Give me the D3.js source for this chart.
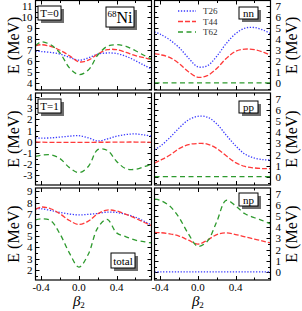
<!DOCTYPE html>
<html>
<head>
<meta charset="utf-8">
<script src="https://cdn.jsdelivr.net/npm/d3@7"></script>
<style>
  body { margin: 0; background: #fff; }
  svg text { font-family: "Liberation Serif", "DejaVu Serif", serif; }
</style>
</head>
<body>
<svg id="chart" width="302" height="311"></svg>
<script>
// beta2 grid shared by every curve
const beta = [-0.46, -0.4, -0.3, -0.2, -0.1, 0, 0.1, 0.2, 0.3, 0.4, 0.5, 0.6, 0.7, 0.77];

// T=0 (MeV)
const t0_T26 = [6.9, 6.88, 6.8, 6.65, 6.35, 6.1, 6.3, 6.65, 6.75, 6.7, 6.45, 6.05, 5.6, 5.3];
const t0_T44 = [7.4, 7.5, 7.35, 7.0, 6.5, 5.95, 6.1, 6.65, 7.05, 7.05, 6.8, 6.5, 6.3, 6.15];
const t0_T62 = [7.4, 7.75, 7.5, 6.75, 5.4, 4.8, 5.2, 6.55, 7.35, 7.5, 7.35, 6.95, 6.5, 6.2];

// nn
const nn_T26 = [4.65, 4.45, 3.95, 3.25, 2.3, 1.5, 1.6, 2.45, 3.6, 4.5, 5.0, 5.05, 4.8, 4.5];
const nn_T44 = [2.7, 2.6, 2.35, 1.8, 1.05, 0.55, 0.7, 1.35, 2.25, 2.9, 3.1, 3.05, 2.8, 2.55];
const nn_T62 = [0.05, 0.05, 0.05, 0.05, 0.05, 0.05, 0.05, 0.05, 0.05, 0.05, 0.05, 0.05, 0.05, 0.05];

// T=1
const t1_T26 = [0.35, 0.33, 0.35, 0.42, 0.5, 0.55, 0.35, 0.08, 0.25, 0.5, 0.65, 0.7, 0.6, 0.5];
const t1_T44 = [0, -0.03, -0.05, -0.05, -0.05, -0.05, -0.05, -0.04, -0.04, -0.03, -0.02, -0.02, -0.03, -0.05];
const t1_T62 = [-1.3, -1.2, -1.15, -1.5, -2.3, -2.75, -2.2, -0.7, -0.75, -1.75, -2.4, -2.45, -2.2, -2.0];

// pp
const pp_T26 = [2.45, 2.75, 3.5, 4.37, 5.1, 5.42, 5.35, 4.75, 3.75, 2.8, 2.05, 1.7, 1.55, 1.55];
const pp_T44 = [1.25, 1.5, 1.95, 2.54, 2.9, 3.0, 2.95, 2.55, 1.9, 1.3, 0.95, 0.82, 0.76, 0.75];
const pp_T62 = [0.05, 0.05, 0.05, 0.05, 0.05, 0.05, 0.05, 0.05, 0.05, 0.05, 0.05, 0.05, 0.05, 0.05];

// total
const tot_T26 = [7.45, 7.45, 7.3, 7.12, 6.98, 6.9, 6.95, 7.03, 7.15, 7.12, 6.95, 6.7, 6.3, 6.0];
const tot_T44 = [7.4, 7.6, 7.45, 7.0, 6.4, 6.05, 6.35, 7.0, 7.33, 7.25, 6.95, 6.6, 6.2, 5.95];
const tot_T62 = [6.45, 6.55, 6.4, 5.2, 3.5, 2.25, 3.4, 5.75, 6.5, 5.3, 4.95, 4.65, 4.5, 4.4];

// np
const np_T26 = [0.02, 0.02, 0.02, 0.02, 0.02, 0.02, 0.02, 0.02, 0.02, 0.02, 0.02, 0.02, 0.02, 0.02];
const np_T44 = [3.55, 3.52, 3.42, 3.22, 2.85, 2.5, 2.85, 3.35, 3.5, 3.35, 3.15, 2.95, 2.75, 2.6];
const np_T62 = [6.5, 6.4, 5.9, 4.87, 3.4, 2.3, 2.75, 4.5, 6.4, 5.9, 5.2, 4.85, 4.55, 4.3];

const xTicks = [-0.4, 0.0, 0.4];
const seriesNames = ['T26', 'T44', 'T62'];

// styles per series
const styles = {
    T26: { color: '#3a3aff', dash: '1.3,1.6', width: 1.3 },
    T44: { color: '#ff3a3a', dash: '5,2', width: 1.3 },
    T62: { color: '#2e9a2e', dash: '5,3.5', width: 1.3 }
};

const panels = [
    { col: 0, row: 0, y: [3.4, 11.5], ticks: d3.range(4, 12), data: [t0_T26, t0_T44, t0_T62], label: 'T=0', box: [38, 6, 23, 14] },
    { col: 1, row: 0, y: [-0.6, 7.5], ticks: d3.range(0, 8), data: [nn_T26, nn_T44, nn_T62], label: 'nn', box: [239, 7, 19, 12], legend: true },
    { col: 0, row: 1, y: [-3.85, 4.35], ticks: d3.range(-3, 5), data: [t1_T26, t1_T44, t1_T62], label: 'T=1', box: [38, 99, 23, 14] },
    { col: 1, row: 1, y: [-0.7, 7.5], ticks: d3.range(0, 8), data: [pp_T26, pp_T44, pp_T62], label: 'pp', box: [239, 101, 19, 12] },
    { col: 0, row: 2, y: [1.1, 9.3], ticks: d3.range(2, 10), data: [tot_T26, tot_T44, tot_T62], label: 'total', box: [111, 253, 24, 15], xlabels: true },
    { col: 1, row: 2, y: [-0.7, 7.5], ticks: d3.range(0, 8), data: [np_T26, np_T44, np_T62], label: 'np', box: [239, 193, 19, 13], xlabels: true }
];

const colX = [[35.5, 151.5], [154.5, 270.5]];
const rowY = [[0.5, 90], [93, 185], [188, 280]];

const svg = d3.select('#chart');

panels.forEach(p => {
    const [x0, x1] = colX[p.col];
    const [y0, y1] = rowY[p.row];
    const x = d3.scaleLinear().domain([-0.46, 0.77]).range([x0, x1]);
    const y = d3.scaleLinear().domain(p.y).range([y1, y0]);
    const g = svg.append('g');

    // clip so curves stay inside the frame
    const clipId = 'clip' + p.col + p.row;
    g.append('clipPath').attr('id', clipId)
        .append('rect').attr('x', x0).attr('y', y0).attr('width', x1 - x0).attr('height', y1 - y0);

    // ticks, inward on all four sides
    const xMajor = [-0.4, 0, 0.4];
    const xMinor = [-0.2, 0.2, 0.6];
    const ticks = g.append('g').attr('stroke', '#000').attr('stroke-width', 1);
    xMajor.concat(xMinor).forEach(v => {
        const len = xMajor.includes(v) ? 4 : 2.5;
        const px = Math.round(x(v)) + 0.5;
        ticks.append('line').attr('x1', px).attr('x2', px).attr('y1', y1).attr('y2', y1 - len);
        ticks.append('line').attr('x1', px).attr('x2', px).attr('y1', y0).attr('y2', y0 + len);
    });
    const yAll = d3.range(Math.ceil(p.y[0] * 2) / 2, p.y[1], 0.5);
    yAll.forEach(v => {
        const len = Number.isInteger(v) ? 4 : 2.5;
        const py = Math.round(y(v)) + 0.5;
        ticks.append('line').attr('x1', x0).attr('x2', x0 + len).attr('y1', py).attr('y2', py);
        ticks.append('line').attr('x1', x1).attr('x2', x1 - len).attr('y1', py).attr('y2', py);
    });

    // curves
    const line = d3.line()
        .x((d, i) => x(beta[i]))
        .y(d => y(d))
        .curve(d3.curveCatmullRom.alpha(0.5));
    const curves = g.append('g').attr('clip-path', `url(#${clipId})`);
    p.data.forEach((vals, k) => {
        const s = styles[seriesNames[k]];
        curves.append('path')
            .attr('d', line(vals))
            .attr('fill', 'none')
            .attr('stroke', s.color)
            .attr('stroke-width', s.width)
            .attr('stroke-dasharray', s.dash);
    });

    // frame
    g.append('rect')
        .attr('x', x0).attr('y', y0).attr('width', x1 - x0).attr('height', y1 - y0)
        .attr('fill', 'none').attr('stroke', '#000').attr('stroke-width', 1.2);

    // tick labels
    p.ticks.forEach(v => {
        g.append('text')
            .attr('x', p.col === 0 ? x0 - 3 : x1 + 5)
            .attr('y', y(v) + 4)
            .attr('text-anchor', p.col === 0 ? 'end' : 'start')
            .attr('font-size', 11)
            .text(v);
    });

    if (p.xlabels) {
        xTicks.forEach(v => {
            g.append('text')
                .attr('x', x(v)).attr('y', y1 + 11)
                .attr('text-anchor', 'middle')
                .attr('font-size', 11)
                .text(v < 0 ? '-' + Math.abs(v).toFixed(1) : v.toFixed(1));
        });
        const bl = g.append('text')
            .attr('x', x(0)).attr('y', y1 + 26)
            .attr('text-anchor', 'middle')
            .attr('font-size', 15);
        bl.append('tspan').attr('font-style', 'italic').text('β');
        bl.append('tspan').attr('font-size', 9).attr('dy', 2).text('2');
    }

    // axis title
    const tx = p.col === 0 ? 14 : 292;
    const ty = (y0 + y1) / 2;
    g.append('text')
        .attr('transform', `translate(${tx + 5},${ty}) rotate(-90)`)
        .attr('text-anchor', 'middle')
        .attr('font-size', 16)
        .text('E (MeV)');

    // label box with shadow
    const [bx, by, bw, bh] = p.box;
    g.append('rect').attr('x', bx + 3).attr('y', by + 3).attr('width', bw).attr('height', bh).attr('fill', '#6e6e6e');
    g.append('rect').attr('x', bx).attr('y', by).attr('width', bw).attr('height', bh)
        .attr('fill', '#fff').attr('stroke', '#000').attr('stroke-width', 1);
    g.append('text')
        .attr('x', bx + bw / 2).attr('y', by + bh / 2 + 4)
        .attr('text-anchor', 'middle')
        .attr('font-size', 11)
        .text(p.label);

    if (p.legend) {
        seriesNames.forEach((name, k) => {
            const s = styles[name];
            const ly = 11 + k * 10.5;
            g.append('line')
                .attr('x1', 178).attr('x2', 196).attr('y1', ly).attr('y2', ly)
                .attr('stroke', s.color).attr('stroke-width', s.width).attr('stroke-dasharray', s.dash);
            g.append('text')
                .attr('x', 203).attr('y', ly + 3)
                .attr('font-size', 9).attr('fill', '#333')
                .text(name);
        });
    }
});

// 68Ni box in the top-left panel
const ni = svg.append('g');
ni.append('rect').attr('x', 109).attr('y', 10).attr('width', 28).attr('height', 20).attr('fill', '#6e6e6e');
ni.append('rect').attr('x', 106).attr('y', 7).attr('width', 28).attr('height', 20)
    .attr('fill', '#fff').attr('stroke', '#000').attr('stroke-width', 1);
const niText = ni.append('text').attr('x', 120).attr('y', 23).attr('text-anchor', 'middle');
niText.append('tspan').attr('font-size', 9).attr('dy', -6).text('68');
niText.append('tspan').attr('font-size', 16).attr('dy', 6).text('Ni');
</script>
</body>
</html>
